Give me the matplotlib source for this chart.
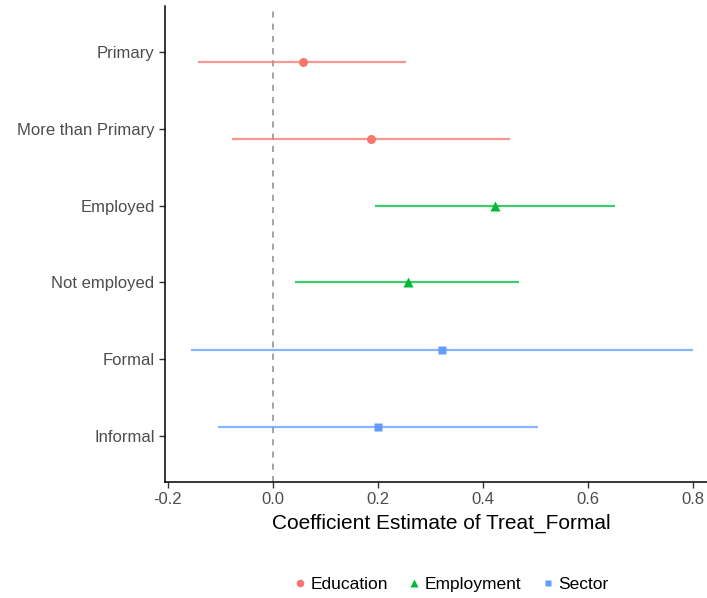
import numpy as np
import matplotlib
matplotlib.use('Agg')
import matplotlib.pyplot as plt
from matplotlib.lines import Line2D

plt.rcParams['font.family'] = ['Liberation Sans', 'DejaVu Sans']

# 데이터
categories = ['Primary', 'More than Primary', 'Employed', 'Not employed', 'Formal', 'Informal']
groups = ['Education', 'Education', 'Employment', 'Employment', 'Sector', 'Sector']
estimate = [0.057, 0.187, 0.423, 0.257, 0.323, 0.200]
ci_low = [-0.142, -0.077, 0.194, 0.042, -0.155, -0.104]
ci_high = [0.253, 0.451, 0.651, 0.470, 0.800, 0.506]

group_names = ['Education', 'Employment', 'Sector']
colors = {'Education': '#F8766D', 'Employment': '#00BA38', 'Sector': '#619CFF'}
markers = {'Education': 'o', 'Employment': '^', 'Sector': 's'}
msizes = {'Education': 6.5, 'Employment': 6.5, 'Sector': 5.5}
dodge = {'Education': 0.13, 'Employment': 0.0, 'Sector': -0.12}

W, H = 707, 598
fig = plt.figure(figsize=(W / 100, H / 100), dpi=100)
ax = fig.add_axes([165 / W, (H - 482) / H, (718 - 165) / W, (482 - 6) / H])

ypos = np.arange(len(categories))
for i, cat in enumerate(categories):
    g = groups[i]
    y = ypos[i] + dodge[g]
    ax.hlines(y, ci_low[i], ci_high[i], color=colors[g], lw=1.6, alpha=0.75, zorder=2)
    ax.plot(estimate[i], y, marker=markers[g], color=colors[g], ms=msizes[g],
            mec='none', ls='none', zorder=3)

ax.axvline(0, color='#8c8c8c', ls=(0, (4, 4)), lw=1.1, zorder=1)

ax.set_ylim(len(categories) - 0.4, -0.6)
ax.set_yticks(ypos)
ax.set_yticklabels(categories)
ax.set_xlim(-0.205, 0.848)
ax.set_xticks([-0.2, 0.0, 0.2, 0.4, 0.6, 0.8])
ax.set_xticklabels(['-0.2', '0.0', '0.2', '0.4', '0.6', '0.8'])

for s in ['top', 'right']:
    ax.spines[s].set_visible(False)
for s in ['left', 'bottom']:
    ax.spines[s].set_color('black')
    ax.spines[s].set_linewidth(1.1)

ax.tick_params(axis='both', colors='#333333', labelcolor='#4D4D4D', labelsize=12,
               length=4, width=1)
ax.tick_params(axis='x', pad=3)
ax.set_xlabel('Coefficient Estimate of Treat_Formal', fontsize=15, color='black', labelpad=5)

handles = [Line2D([], [], marker=markers[g], color=colors[g], ls='none', ms=msizes[g] - 1,
                  mec='none', label=g) for g in group_names]
fig.legend(handles=handles, loc='center', bbox_to_anchor=(450 / W, 1 - 584 / H), ncol=3,
           frameon=False, fontsize=12.5, handletextpad=0.1, columnspacing=1.0,
           handlelength=1.0)

fig.savefig('out.png', dpi=100)
